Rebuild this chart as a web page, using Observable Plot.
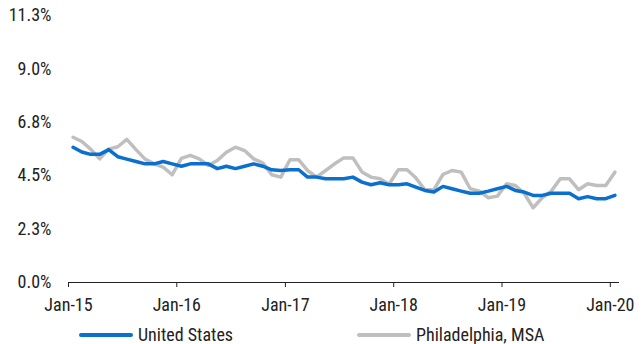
<!DOCTYPE html>
<html>
<head>
<meta charset="utf-8">
<script src="https://cdn.jsdelivr.net/npm/d3@7"></script>
<script src="https://cdn.jsdelivr.net/npm/@observablehq/plot@0.6"></script>
<style>
  html, body { margin: 0; padding: 0; background: #fff; }
  body { width: 643px; height: 344px; overflow: hidden; font-family: "Roboto Condensed", "Liberation Sans Narrow", "DejaVu Sans Condensed", Roboto, sans-serif; color: #222; }
  #chart { position: relative; width: 643px; height: 312px; }
  #chart svg { display: block; }
  #legend { position: relative; width: 643px; height: 32px; font-size: 18px; }
  .item { position: absolute; top: 12px; display: flex; align-items: center; line-height: 21px; }
  .sw { width: 54px; height: 4px; margin-right: 5px; border-radius: 2px; }
</style>
</head>
<body>
<div id="chart"></div>
<div id="legend"></div>
<script>
const startYear = 2015, startMonth = 0;
const usRate = [
  5.7, 5.5, 5.4, 5.4, 5.6, 5.3, 5.2, 5.1, 5.0, 5.0, 5.1, 5.0,
  4.9, 5.0, 5.0, 5.0, 4.8, 4.9, 4.8, 4.9, 5.0, 4.9, 4.75, 4.72,
  4.75, 4.75, 4.44, 4.44, 4.37, 4.37, 4.37, 4.44, 4.23, 4.12, 4.2, 4.12,
  4.12, 4.16, 4.02, 3.88, 3.81, 4.05, 3.95, 3.85, 3.76, 3.76, 3.85, 3.95,
  4.05, 3.88, 3.81, 3.67, 3.67, 3.76, 3.76, 3.76, 3.53, 3.62, 3.53, 3.53,
  3.67
];
const phlRate = [
  6.12, 5.94, 5.62, 5.21, 5.62, 5.72, 6.03, 5.6, 5.2, 5.0, 4.86, 4.54,
  5.23, 5.36, 5.21, 4.93, 5.14, 5.49, 5.7, 5.56, 5.21, 5.04, 4.54, 4.44,
  5.17, 5.17, 4.72, 4.44, 4.72, 5.0, 5.25, 5.25, 4.66, 4.44, 4.37, 4.14,
  4.75, 4.75, 4.41, 3.91, 3.91, 4.55, 4.72, 4.65, 3.95, 3.85, 3.57, 3.64,
  4.16, 4.09, 3.76, 3.15, 3.57, 3.85, 4.37, 4.37, 3.91, 4.16, 4.09, 4.09,
  4.65
];
const seriesNames = ["United States", "Philadelphia, MSA"];
const seriesColors = ["#0a6fcf", "#bfbfbf"];
const yTicks = [0, 2.25, 4.5, 6.75, 9, 11.25];
const yTickLabels = ["0.0%", "2.3%", "4.5%", "6.8%", "9.0%", "11.3%"];
const xTickYears = [2015, 2016, 2017, 2018, 2019, 2020];
const xTickLabels = ["Jan-15", "Jan-16", "Jan-17", "Jan-18", "Jan-19", "Jan-20"];

// each month occupies a band; points sit at the middle of their month
const monthDate = (i, frac = 0) => {
  const a = Date.UTC(startYear, startMonth + i, 1), b = Date.UTC(startYear, startMonth + i + 1, 1);
  return new Date(a + (b - a) * frac);
};
const data = [];
usRate.forEach((v, i) => data.push({date: monthDate(i, 0.5), value: v, series: seriesNames[0]}));
phlRate.forEach((v, i) => data.push({date: monthDate(i, 0.5), value: v, series: seriesNames[1]}));
const xTicks = xTickYears.map(y => new Date(Date.UTC(y, 0, 1)));

const font = "'Roboto Condensed', 'Liberation Sans Narrow', 'DejaVu Sans Condensed', Roboto, sans-serif";
const chart = Plot.plot({
  width: 643,
  height: 312,
  marginLeft: 68,
  marginRight: 24,
  marginTop: 15,
  marginBottom: 30,
  style: {fontFamily: font, fontSize: "18px", color: "#222", background: "#fff", overflow: "visible"},
  x: {type: "utc", domain: [monthDate(0), monthDate(usRate.length)]},
  y: {domain: [0, 11.25]},
  color: {domain: seriesNames, range: seriesColors},
  marks: [
    Plot.axisY({ticks: yTicks, tickSize: 0, tickPadding: 17, label: null,
      tickFormat: d => yTickLabels[yTicks.indexOf(d)]}),
    Plot.axisX({ticks: xTicks, tickSize: 5, tickPadding: 11, label: null, stroke: "#222",
      tickFormat: d => xTickLabels[xTickYears.indexOf(d.getUTCFullYear())]}),
    Plot.ruleY([0], {stroke: "#222", strokeWidth: 1}),
    Plot.line(data.filter(d => d.series === seriesNames[1]), {x: "date", y: "value", stroke: "series", strokeWidth: 3.5}),
    Plot.line(data.filter(d => d.series === seriesNames[0]), {x: "date", y: "value", stroke: "series", strokeWidth: 3.5})
  ]
});
document.getElementById("chart").appendChild(chart);

const legend = document.getElementById("legend");
const lefts = [79, 357];
seriesNames.forEach((n, i) => {
  const it = document.createElement("div");
  it.className = "item";
  it.style.left = lefts[i] + "px";
  it.innerHTML = `<span class="sw" style="background:${seriesColors[i]}"></span><span>${n}</span>`;
  legend.appendChild(it);
});
</script>
</body>
</html>
